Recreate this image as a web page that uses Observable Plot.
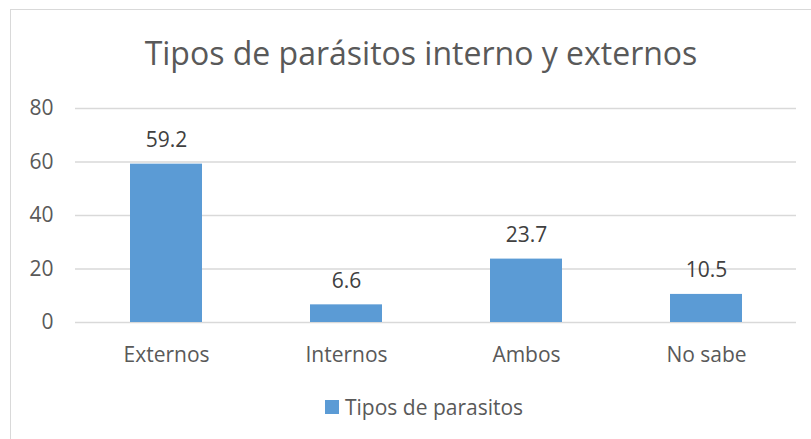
<!DOCTYPE html>
<html>
<head>
<meta charset="utf-8">
<script src="https://cdn.jsdelivr.net/npm/d3@7"></script>
<script src="https://cdn.jsdelivr.net/npm/@observablehq/plot@0.6"></script>
<style>
  html, body { margin: 0; padding: 0; background: #fff; }
  #wrap { position: relative; width: 811px; height: 439px; overflow: hidden; font-family: "Open Sans", sans-serif; color: #595959; }
  #frame { position: absolute; left: 10px; top: 9px; width: 820px; height: 450px; border: 1px solid #d9d9d9; box-sizing: border-box; }
  #title { position: absolute; left: 0; width: 842px; top: 33px; text-align: center; font-size: 32px; line-height: 40px; white-space: nowrap; }
  #chart { position: absolute; left: 0; top: 0; }
  #legend { position: absolute; top: 394px; left: 325px; font-size: 21px; line-height: 26px; display: flex; align-items: center; white-space: nowrap; }
  #legend .sw { width: 14px; height: 14px; background: #5b9bd5; margin-right: 6px; }
</style>
</head>
<body>
<div id="wrap">
  <div id="frame"></div>
  <div id="title">Tipos de parásitos interno y externos</div>
  <div id="chart"></div>
  <div id="legend"><span class="sw"></span><span>Tipos de parasitos</span></div>
</div>
<script>
const categories = ["Externos", "Internos", "Ambos", "No sabe"];
const values = [59.2, 6.6, 23.7, 10.5];
const yTicks = [0, 20, 40, 60, 80];

const data = categories.map((c, i) => ({category: c, value: values[i]}));

const chart = Plot.plot({
  width: 811,
  height: 439,
  marginLeft: 75,
  marginRight: 15,
  marginTop: 108,
  marginBottom: 117,
  style: {fontFamily: "Open Sans, sans-serif", fontSize: "21px", color: "#595959", background: "transparent", overflow: "visible"},
  x: {domain: categories, paddingInner: 0.6, paddingOuter: 0.3, label: null},
  y: {domain: [0, 80], ticks: yTicks, label: null},
  marks: [
    Plot.gridY(yTicks, {stroke: "#d9d9d9", strokeOpacity: 1, strokeWidth: 1.3}),
    Plot.barY(data, {x: "category", y: "value", fill: "#5b9bd5"}),
    Plot.text(data, {x: "category", y: "value", text: d => d.value.toFixed(1), dy: -24, lineAnchor: "middle", fill: "#404040", fontSize: 21}),
    Plot.axisX({tickSize: 0, tickPadding: 25, fontSize: 21, fill: "#595959"}),
    Plot.axisY(yTicks, {tickSize: 0, tickPadding: 22, fontSize: 21, fill: "#595959"})
  ]
});
document.getElementById("chart").appendChild(chart);
</script>
</body>
</html>
